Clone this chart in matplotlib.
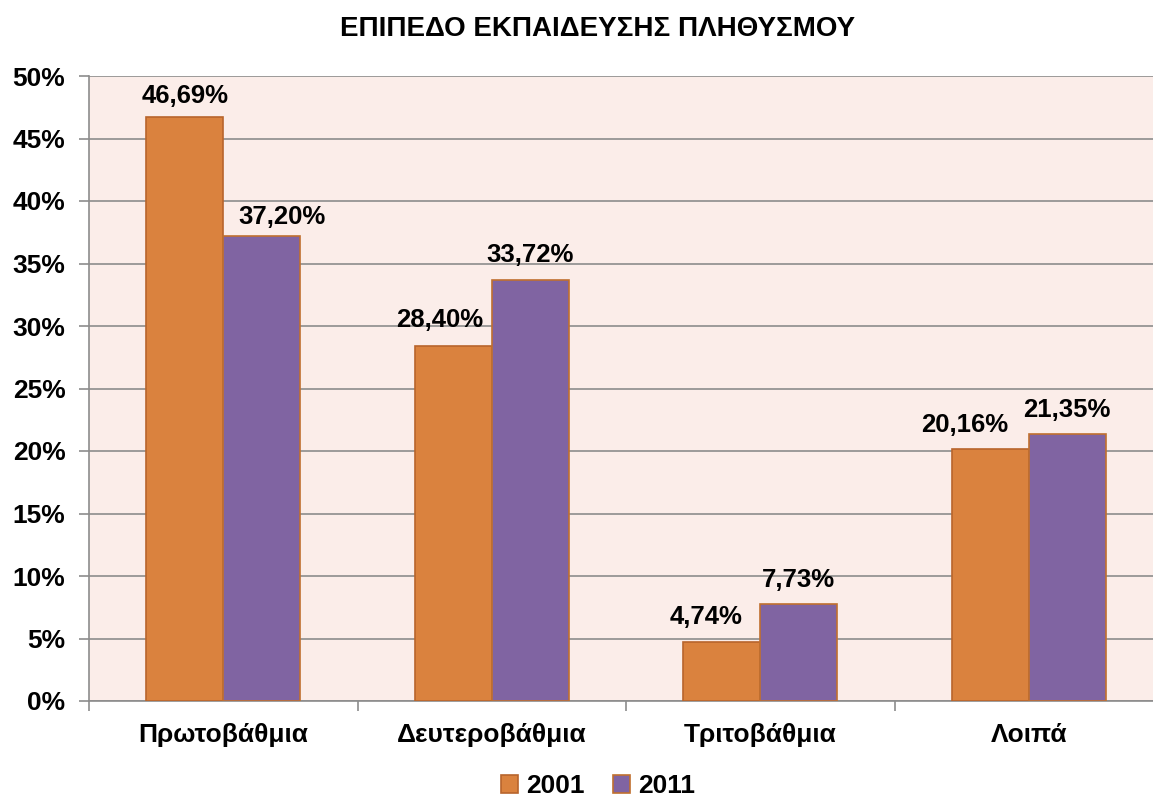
import matplotlib.pyplot as plt
import numpy as np

categories = ['Πρωτοβάθμια', 'Δευτεροβάθμια', 'Τριτοβάθμια', 'Λοιπά']
v2001 = [46.69, 28.40, 4.74, 20.16]
v2011 = [37.20, 33.72, 7.73, 21.35]
lab2001 = ['46,69%', '28,40%', '4,74%', '20,16%']
lab2011 = ['37,20%', '33,72%', '7,73%', '21,35%']

plt.rcParams['font.family'] = ['Liberation Sans', 'DejaVu Sans']
plt.rcParams['font.weight'] = 'bold'

fig = plt.figure(figsize=(11.53, 7.98), dpi=100)
ax = fig.add_axes([89/1153, 1 - 701/798, (1163 - 89)/1153, (701 - 76)/798])
ax.set_facecolor('#FBEDE9')

x = np.arange(len(categories))
w = 0.287
b1 = ax.bar(x - w/2, v2001, w, color='#DA823E', edgecolor='#B8652C', linewidth=1.2, label='2001', zorder=3)
b2 = ax.bar(x + w/2, v2011, w, color='#8064A2', edgecolor='#C0702F', linewidth=1.2, label='2011', zorder=3)

# label offsets in pixels (Excel nudges overlapping labels)
px = 72 / 100
off1 = [(0, 14), (-14, 19), (-16, 18), (-26, 17)]
off2 = [(20, 12), (0, 18), (0, 17), (0, 17)]
for i in range(len(x)):
    ax.annotate(lab2001[i], (x[i] - w/2, v2001[i]), xytext=(off1[i][0]*px, off1[i][1]*px),
                textcoords='offset points', ha='center', va='baseline',
                fontsize=18.5, fontweight='bold')
    ax.annotate(lab2011[i], (x[i] + w/2, v2011[i]), xytext=(off2[i][0]*px, off2[i][1]*px),
                textcoords='offset points', ha='center', va='baseline',
                fontsize=18.5, fontweight='bold')

ax.set_xlim(-0.5, 3.5)
ax.set_ylim(0, 50)
ax.set_yticks(np.arange(0, 51, 5))
ax.set_yticklabels([f'{v}%' for v in range(0, 51, 5)], fontsize=19, fontweight='bold')
ax.yaxis.grid(True, color='#8C8C8C', linewidth=1.2, zorder=0)
ax.set_axisbelow(True)
ax.set_xticks(x)
ax.set_xticklabels(categories, fontsize=19, fontweight='bold')
ax.set_xticks(np.arange(-0.5, 3.6, 1), minor=True)
ax.tick_params(axis='x', which='major', length=0, pad=16)
ax.tick_params(axis='x', which='minor', length=7, color='#8C8C8C', width=1.2)
ax.tick_params(axis='y', length=7, color='#8C8C8C', width=1.2, pad=10)
for s in ['top', 'right']:
    ax.spines[s].set_visible(False)
for s in ['left', 'bottom']:
    ax.spines[s].set_color('#8C8C8C')
    ax.spines[s].set_linewidth(1.2)

fig.text(598/1153, 1 - 29/798, 'ΕΠΙΠΕΔΟ ΕΚΠΑΙΔΕΥΣΗΣ ΠΛΗΘΥΣΜΟΥ', ha='center', va='center',
         fontsize=20, fontweight='bold')

fig.legend(handles=[b1, b2], loc='center', bbox_to_anchor=(598/1153, 1 - 786/798), ncol=2,
           frameon=False, handlelength=0.65, handleheight=0.65,
           handletextpad=0.3, columnspacing=1.1, prop={'weight': 'bold', 'size': 19})

fig.savefig('out.png', dpi=100)
